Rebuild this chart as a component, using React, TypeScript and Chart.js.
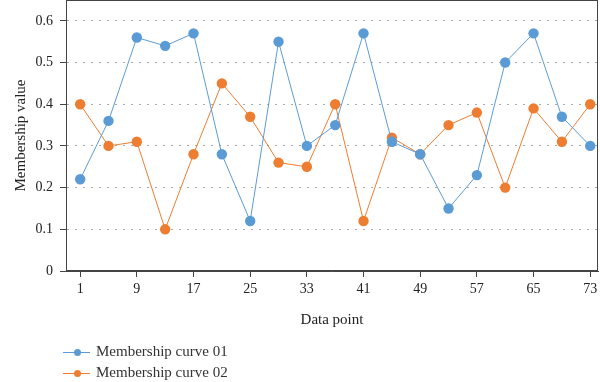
import React, { useEffect, useRef } from "react";
import { Chart, registerables } from "chart.js";

Chart.register(...registerables);

const xPoints = [1, 5, 9, 13, 17, 21, 25, 29, 33, 37, 41, 45, 49, 53, 57, 61, 65, 69, 73];
const curve01 = [0.22, 0.36, 0.56, 0.54, 0.57, 0.28, 0.12, 0.55, 0.30, 0.35, 0.57, 0.31, 0.28, 0.15, 0.23, 0.50, 0.57, 0.37, 0.30];
const curve02 = [0.40, 0.30, 0.31, 0.10, 0.28, 0.45, 0.37, 0.26, 0.25, 0.40, 0.12, 0.32, 0.28, 0.35, 0.38, 0.20, 0.39, 0.31, 0.40];
const xTickLabels = [1, 9, 17, 25, 33, 41, 49, 57, 65, 73];
const yTickLabels = [0, 0.1, 0.2, 0.3, 0.4, 0.5, 0.6];
const seriesNames = ["Membership curve 01", "Membership curve 02"];
const seriesColors = ["#5b9bd5", "#ed7d31"];

const FONT = "'Liberation Serif', 'DejaVu Serif', serif";
const AXIS_COLOR = "#444";

const framePlugin = {
  id: "frame",
  afterDraw(chart: any) {
    const { ctx, chartArea } = chart;
    ctx.save();
    ctx.strokeStyle = AXIS_COLOR;
    ctx.lineWidth = 1;
    ctx.strokeRect(
      Math.round(chartArea.left) + 0.5,
      Math.round(chartArea.top) + 0.5,
      Math.round(chartArea.right - chartArea.left) - 1,
      Math.round(chartArea.bottom - chartArea.top) - 1
    );
    ctx.restore();
  },
};

const legendPlugin = {
  id: "customLegend",
  afterDraw(chart: any) {
    const { ctx } = chart;
    ctx.save();
    chart.data.datasets.forEach((ds: any, i: number) => {
      const y = 352 + i * 21;
      ctx.strokeStyle = ds.borderColor;
      ctx.lineWidth = 1;
      ctx.beginPath();
      ctx.moveTo(63, y + 0.5);
      ctx.lineTo(90, y + 0.5);
      ctx.stroke();
      ctx.fillStyle = ds.backgroundColor;
      ctx.beginPath();
      ctx.arc(77.5, y + 0.5, 3.5, 0, Math.PI * 2);
      ctx.fill();
      ctx.fillStyle = "#333";
      ctx.font = `15px ${FONT}`;
      ctx.textBaseline = "middle";
      ctx.textAlign = "left";
      ctx.fillText(ds.label, 96, y);
    });
    ctx.restore();
  },
};

export default function App() {
  const ref = useRef<HTMLCanvasElement | null>(null);

  useEffect(() => {
    document.body.style.margin = "0";
    const canvas = ref.current;
    if (!canvas) return;
    const mk = (vals: number[]) => xPoints.map((x, i) => ({ x, y: vals[i] }));
    const chart = new Chart(canvas, {
      type: "line",
      data: {
        datasets: [curve01, curve02].map((vals, i) => ({
          label: seriesNames[i],
          data: mk(vals),
          borderColor: seriesColors[i],
          backgroundColor: seriesColors[i],
          pointBackgroundColor: seriesColors[i],
          pointBorderColor: seriesColors[i],
          pointRadius: 5.2,
          pointBorderWidth: 0,
          borderWidth: 1,
          tension: 0,
          fill: false,
        })),
      },
      options: {
        animation: false,
        responsive: false,
        maintainAspectRatio: false,
        layout: { autoPadding: false, padding: { left: 0, right: 2, top: 0, bottom: 53 } },
        plugins: {
          legend: { display: false },
          tooltip: { enabled: false },
        },
        scales: {
          x: {
            type: "linear",
            min: -1,
            max: 74.1,
            afterBuildTicks: (scale: any) => {
              scale.ticks = xTickLabels.map((v) => ({ value: v }));
            },
            afterFit: (scale: any) => {
              scale.height = 58;
              scale.paddingLeft = 0;
              scale.paddingRight = 0;
            },
            grid: {
              drawOnChartArea: false,
              drawTicks: true,
              tickLength: 6,
              tickColor: AXIS_COLOR,
            },
            border: { display: true, color: AXIS_COLOR },
            ticks: {
              color: "#222",
              font: { family: FONT, size: 14 },
              padding: 4,
              maxRotation: 0,
              autoSkip: false,
              callback: (v: any) => String(v),
            },
            title: {
              display: true,
              text: "Data point",
              color: "#222",
              font: { family: FONT, size: 15 },
              padding: { top: 0, bottom: 0 },
            },
          },
          y: {
            type: "linear",
            min: 0,
            max: 0.65,
            afterBuildTicks: (scale: any) => {
              scale.ticks = yTickLabels.map((v) => ({ value: v }));
            },
            afterFit: (scale: any) => {
              scale.width = 66;
              scale.paddingTop = 0;
              scale.paddingBottom = 0;
            },
            grid: {
              color: "#aaa",
              tickBorderDash: [],
              tickLength: 6,
              tickColor: AXIS_COLOR,
              drawTicks: true,
            } as any,
            border: { display: true, color: AXIS_COLOR, dash: [2, 6] },
            ticks: {
              color: "#222",
              font: { family: FONT, size: 14 },
              padding: 7,
              callback: (v: any) => String(Math.round(Number(v) * 10) / 10),
            },
            title: {
              display: true,
              text: "Membership value",
              color: "#222",
              font: { family: FONT, size: 15 },
              padding: { top: 12, bottom: 0 },
            },
          },
        },
      } as any,
      plugins: [framePlugin, legendPlugin],
    });
    return () => chart.destroy();
  }, []);

  return (
    <div style={{ width: 600, height: 382 }}>
      <canvas ref={ref} width={600} height={382} style={{ display: "block" }} />
    </div>
  );
}
